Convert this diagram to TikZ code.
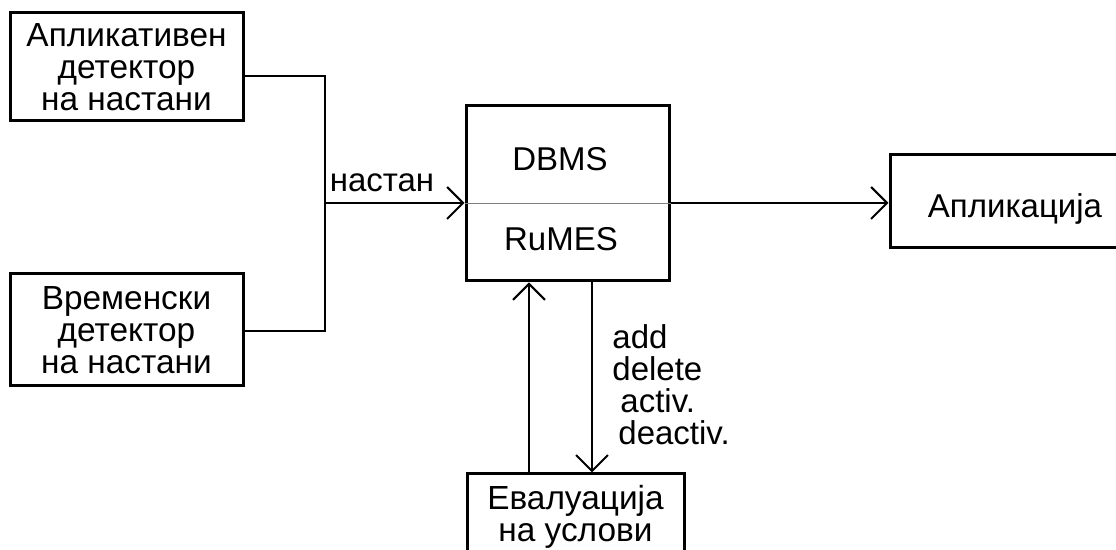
\documentclass[tikz,border=0pt]{standalone}
\usepackage{fontspec}
\setmainfont{Liberation Sans}
\usetikzlibrary{arrows.meta}
\begin{document}
\begin{tikzpicture}[x=0.5pt,y=-0.5pt,
  box/.style={draw, line width=1.5pt, inner sep=0pt, align=center, font=\fontsize{16.7}{16}\selectfont},
  conn/.style={line width=1pt},
  arr/.style={conn, -{Straight Barb[length=8pt,width=16pt,line width=1pt]}},
  lbl/.style={inner sep=0pt, font=\fontsize{16.5}{16}\selectfont}]
\useasboundingbox (0,0) rectangle (1116,550);
\clip (0,0) rectangle (1116,550);
% boxes
\node[box, minimum width=116.5pt, minimum height=54pt] (b1) at (126.5,67) {Апликативен\\детектор\\на настани};
\node[box, minimum width=116.5pt, minimum height=56pt] (b2) at (126.5,330) {Временски\\детектор\\на настани};
\node[box, minimum width=101.5pt, minimum height=87.5pt] (c) at (567.5,193.5) {};
\node[box, minimum width=120pt, minimum height=46.5pt] (apl) at (1010,201.5) {};
\node[box, minimum width=108.5pt, minimum height=43pt] (ev) at (575.5,517) {Евалуација\\на услови};
% labels
\node[lbl, anchor=base] (dbms) at (560,171) {DBMS};
\node[lbl, anchor=base] (rumes) at (561,251) {RuMES};
\node[lbl, anchor=base] (apltext) at (1015,218) {Апликација};
\node[lbl, anchor=base] (nastan) at (382,192) {настан};
\node[lbl, anchor=north west, align=left] (ops) at (612,324) {add\\delete\\\hspace*{4pt}activ.\\\hspace*{3pt}deactiv.};
% connectors
\coordinate (j1) at (325,76);
\coordinate (j2) at (325,331);
\coordinate (jm) at (325,203);
\coordinate (u) at (529,0);
\coordinate (d) at (592,0);
\draw[conn] (b1.east |- j1) -- (j1) -- (j2) -- (b2.east |- j2);
\draw[arr] (jm) -- (c.west |- jm);
\draw[gray, line width=0.4pt] (c.west |- jm) -- (c.east |- jm);
\draw[arr] (c.east |- jm) -- (apl.west |- jm);
\draw[arr] (ev.north -| u) -- (c.south -| u);
\draw[arr] (c.south -| d) -- (ev.north -| d);
\end{tikzpicture}
\end{document}
